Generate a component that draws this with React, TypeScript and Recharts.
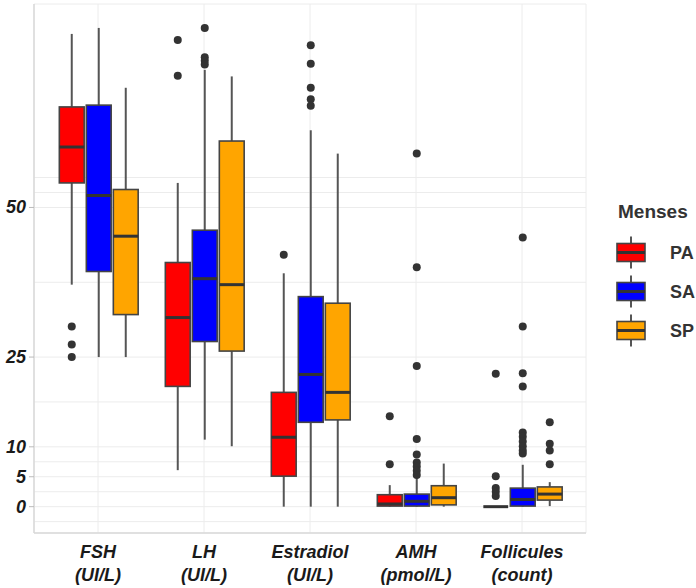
import React from "react";
import { ComposedChart, Bar, XAxis, YAxis, CartesianGrid, Legend } from "recharts";

const categories = ["FSH", "LH", "Estradiol", "AMH", "Follicules"];
const units = ["(UI/L)", "(UI/L)", "(UI/L)", "(pmol/L)", "(count)"];
const groups = ["PA", "SA", "SP"];
const groupColors = ["#FF0000", "#0000FF", "#FFA500"];

// PA
const paLow = [37.1, 6.1, 0, 0, 0];
const paQ1 = [54.1, 20.1, 5.1, 0.1, 0];
const paMedian = [60.1, 31.6, 11.6, 0.45, 0];
const paQ3 = [66.8, 40.8, 19.1, 2.0, 0];
const paHigh = [79.0, 54.1, 39.0, 3.6, 0];
const paOutliers = [[30.1, 27.1, 25.0], [78.0, 72.0], [42.1], [15.1, 7.1], [22.2, 5.1, 3.1, 2.5, 1.8]];

// SA
const saLow = [25.0, 11.2, 0, 0, 0];
const saQ1 = [39.3, 27.6, 14.1, 0.1, 0.1];
const saMedian = [52.0, 38.1, 22.1, 0.9, 1.2];
const saQ3 = [67.1, 46.2, 35.1, 2.1, 3.1];
const saHigh = [80.0, 73.0, 62.9, 4.9, 7.0];
const saOutliers = [
  [],
  [80.0, 75.1, 74.5, 73.9],
  [77.1, 74.0, 70.0, 68.1, 67.0],
  [59.0, 40.0, 23.5, 11.3, 8.7, 7.4, 6.7, 6.0, 5.3],
  [45.0, 30.1, 22.3, 20.1, 12.4, 11.7, 10.9, 10.1, 9.4, 8.9],
];

// SP
const spLow = [25.0, 10.1, 0, 0, 0.1];
const spQ1 = [32.1, 26.0, 14.5, 0.3, 1.1];
const spMedian = [45.2, 37.1, 19.1, 1.5, 2.1];
const spQ3 = [53.0, 61.1, 34.0, 3.5, 3.3];
const spHigh = [70.0, 71.9, 59.0, 7.2, 4.1];
const spOutliers = [[], [], [], [], [14.1, 10.5, 9.4, 7.1]];

const yTicks = [-2.5, 0, 2.5, 5, 7.5, 10, 17.5, 25, 37.5, 50, 52.5, 55];
const yLabels = [0, 5, 10, 25, 50];

const Y_MIN = -4.4;
const Y_MAX = 84;

const stats = {
  PA: { low: paLow, q1: paQ1, med: paMedian, q3: paQ3, high: paHigh, out: paOutliers },
  SA: { low: saLow, q1: saQ1, med: saMedian, q3: saQ3, high: saHigh, out: saOutliers },
  SP: { low: spLow, q1: spQ1, med: spMedian, q3: spQ3, high: spHigh, out: spOutliers },
};

const data = categories.map((cat, i) => ({
  cat,
  idx: i,
  PA: [paQ1[i], paQ3[i]],
  SA: [saQ1[i], saQ3[i]],
  SP: [spQ1[i], spQ3[i]],
}));

const FONT = "'Liberation Sans', Arial, sans-serif";

function BoxShape(props: any) {
  const { x, y, width, height, background, payload, group, color } = props;
  const s = stats[group as keyof typeof stats];
  const i = payload.idx;
  const top = background.y;
  const h = background.height;
  const yOf = (v: number) => top + ((Y_MAX - v) / (Y_MAX - Y_MIN)) * h;
  const cx = x + width / 2;
  const bw = width * 0.92;
  const bx = cx - bw / 2;
  const boxTop = y;
  const boxBottom = y + height;
  return (
    <g>
      <line x1={cx} x2={cx} y1={yOf(s.high[i])} y2={boxTop} stroke="#555" strokeWidth={2} />
      <line x1={cx} x2={cx} y1={boxBottom} y2={yOf(s.low[i])} stroke="#555" strokeWidth={2} />
      <rect x={bx} y={boxTop} width={bw} height={Math.max(height, 0)} fill={color} stroke="#444" strokeWidth={1.6} />
      <line x1={bx} x2={bx + bw} y1={yOf(s.med[i])} y2={yOf(s.med[i])} stroke="#333" strokeWidth={3} />
      {s.out[i].map((v: number, k: number) => (
        <circle key={k} cx={cx} cy={yOf(v)} r={4} fill="#333" />
      ))}
    </g>
  );
}

function XTick(props: any) {
  const { x, y, payload } = props;
  const i = categories.indexOf(payload.value);
  return (
    <text x={x} y={y} textAnchor="middle" fontFamily={FONT} fontWeight="bold" fontStyle="italic" fontSize={18} fill="#1a1a1a">
      <tspan x={x} dy={17}>{payload.value}</tspan>
      <tspan x={x} dy={23}>{units[i]}</tspan>
    </text>
  );
}

function YTick(props: any) {
  const { y, payload } = props;
  if (!yLabels.includes(payload.value)) return null;
  return (
    <g>
      <line x1={29} x2={34} y1={y} y2={y} stroke="#bbb" strokeWidth={1} />
      <text x={26} y={y} dy={6} textAnchor="end" fontFamily={FONT} fontWeight="bold" fontStyle="italic" fontSize={18} fill="#1a1a1a">
        {payload.value}
      </text>
    </g>
  );
}

function LegendBox() {
  return (
    <svg width={86} height={160}>
      <text x={8} y={23} fontFamily={FONT} fontWeight="bold" fontSize={19} fill="#333">Menses</text>
      {groups.map((g, k) => {
        const cy = 57.5 + k * 39;
        return (
          <g key={g}>
            <line x1={21} x2={21} y1={cy - 16} y2={cy + 16} stroke="#555" strokeWidth={2} />
            <rect x={7} y={cy - 9} width={28} height={18} fill={groupColors[k]} stroke="#444" strokeWidth={1.6} />
            <line x1={7} x2={35} y1={cy} y2={cy} stroke="#333" strokeWidth={3} />
            <text x={60} y={cy} dy={6} fontFamily={FONT} fontWeight="bold" fontSize={18} fill="#333">{g}</text>
          </g>
        );
      })}
    </svg>
  );
}

export default function App() {
  return (
    <div style={{ position: "absolute", left: 0, top: 0 }}>
      <ComposedChart
        width={696}
        height={588}
        data={data}
        margin={{ top: 4, right: 110, left: 0, bottom: 5 }}
        barCategoryGap="12.5%"
        barGap={0}
      >
        <CartesianGrid stroke="#ececec" strokeWidth={1} />
        <XAxis
          dataKey="cat"
          height={50}
          padding={{ left: 11, right: 11 }}
          tick={<XTick />}
          tickLine={false}
          axisLine={{ stroke: "#d9d9d9", strokeWidth: 1.5 }}
          interval={0}
        />
        <XAxis
          xAxisId="top"
          orientation="top"
          dataKey="cat"
          height={0}
          tick={false}
          tickLine={false}
          axisLine={{ stroke: "#d9d9d9", strokeWidth: 1.5 }}
        />
        <YAxis
          type="number"
          width={34}
          domain={[Y_MIN, Y_MAX]}
          ticks={yTicks}
          interval={0}
          allowDataOverflow
          tick={<YTick />}
          tickLine={false}
          axisLine={{ stroke: "#d9d9d9", strokeWidth: 1.5 }}
        />
        <YAxis
          yAxisId="right"
          orientation="right"
          width={0}
          domain={[Y_MIN, Y_MAX]}
          tick={false}
          tickLine={false}
          axisLine={{ stroke: "#d9d9d9", strokeWidth: 1.5 }}
        />
        <Legend
          layout="vertical"
          align="center"
          verticalAlign="middle"
          content={() => <LegendBox />}
          wrapperStyle={{ left: 610, top: 195, width: 86, height: 160 }}
        />
        {groups.map((g, k) => (
          <Bar
            key={g}
            dataKey={g}
            fill={groupColors[k]}
            isAnimationActive={false}
            shape={(p: any) => <BoxShape {...p} group={g} color={groupColors[k]} />}
          />
        ))}
      </ComposedChart>
    </div>
  );
}
